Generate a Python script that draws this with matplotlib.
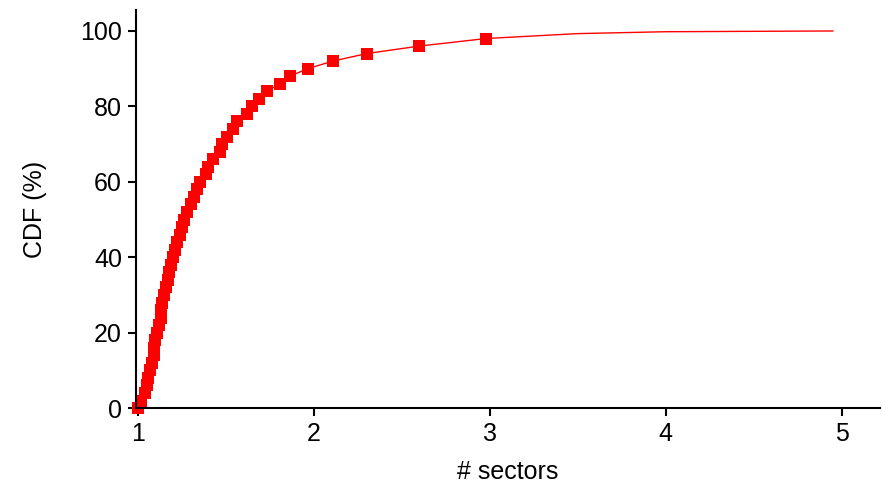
import matplotlib
matplotlib.use("Agg")
import matplotlib.pyplot as plt

plt.rcParams['font.family'] = ['Liberation Sans', 'DejaVu Sans']

# CDF samples, one marker every 2 %
cdf_x = [1.00, 1.02, 1.04, 1.05, 1.06, 1.07, 1.08, 1.09, 1.095, 1.10,
         1.11, 1.12, 1.13, 1.135, 1.14, 1.15, 1.16, 1.17, 1.18, 1.19,
         1.20, 1.21, 1.225, 1.24, 1.25, 1.265, 1.28, 1.30, 1.32, 1.335,
         1.352, 1.39, 1.40, 1.425, 1.465, 1.477, 1.505, 1.54, 1.563, 1.62,
         1.648, 1.69, 1.733, 1.807, 1.864, 1.966, 2.108, 2.30, 2.60, 2.98]
cdf_y = list(range(0, 100, 2))

# tail of the curve, plain line only
tail_x = [2.98, 3.5, 4.0, 4.95]
tail_y = [98, 99.3, 99.8, 100]

fig = plt.figure(figsize=(8.83, 4.87), dpi=100)
ax = fig.add_axes([0.154, 0.162, 0.843, 0.817])

ax.plot(tail_x, tail_y, color='red', lw=1.0)
ax.plot(cdf_x, cdf_y, color='red', lw=1.0, marker='s', markersize=8,
        markeredgewidth=0, clip_on=False)

ax.set_xlim(0.99, 5.22)
ax.set_ylim(0, 105.5)
ax.set_xticks([1, 2, 3, 4, 5])
ax.set_yticks([0, 20, 40, 60, 80, 100])
ax.spines['top'].set_visible(False)
ax.spines['right'].set_visible(False)
ax.spines['left'].set_linewidth(1.5)
ax.spines['bottom'].set_linewidth(1.5)
ax.tick_params(direction='out', length=6, width=1.5, labelsize=18, pad=4)
ax.set_xlabel('# sectors', fontsize=18, labelpad=10)
ax.set_ylabel('CDF (%)', fontsize=18, labelpad=24)

fig.savefig('out.png', dpi=100)
